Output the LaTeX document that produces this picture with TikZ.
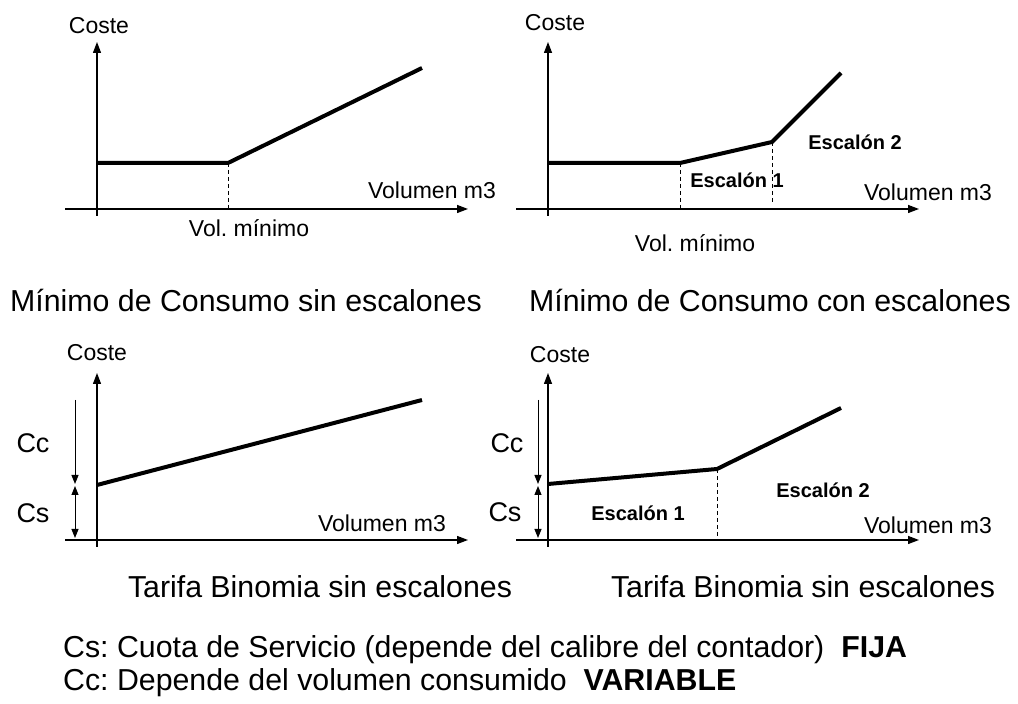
\documentclass[tikz,border=0pt]{standalone}
\usepackage{fontspec}
\setmainfont{Liberation Sans}
\usetikzlibrary{arrows.meta}
\frenchspacing

\tikzset{
  axis/.style={line width=1.3pt},
  cost/.style={line width=4pt},
  guide/.style={line width=0.8pt,dash pattern=on 4pt off 3pt},
  dim/.style={line width=1pt,>={Triangle[length=9pt,width=7pt]}},
  axlabel/.style={font=\fontsize{23}{27}\selectfont,inner sep=0pt},
  vollabel/.style={font=\fontsize{23}{27}\selectfont,inner sep=0pt},
  steplabel/.style={font=\bfseries\fontsize{20}{24}\selectfont,inner sep=0pt},
  partlabel/.style={font=\fontsize{27}{32}\selectfont,inner sep=0pt},
  title/.style={font=\fontsize{30.3}{36}\selectfont,inner sep=0pt}
}

\begin{document}
\begin{tikzpicture}[x=1pt,y=1pt,>/.tip={Triangle[length=11pt,width=8pt]}]
    \useasboundingbox (0,0) rectangle (1018,704);
    % The axes
    \foreach \ox/\oy in {97/495,548/495,97/164,548/164}{
      \draw[axis,->] (\ox-32,\oy) -- (\ox+371,\oy);
      \draw[axis,->] (\ox,\oy-7) -- (\ox,\oy+167);
    }
    % Minimo sin escalones
    \begin{scope}[shift={(97,495)}]
      \node[axlabel] (cA) at (2,183) {Coste};
      \node[vollabel] (vA) at (335,19) {Volumen m3};
      \draw[cost] (0,46) -- (131,46) coordinate (kA) -- (325,141);
      \coordinate (kA0) at (131,0);
      \draw[guide] (kA) -- (kA0);
      \node[vollabel] (mA) at (152,-19) {Vol. mínimo};
    \end{scope}
    % Minimo con escalones
    \begin{scope}[shift={(548,495)}]
      \node[axlabel] (cB) at (7,186) {Coste};
      \node[vollabel] (vB) at (380,17) {Volumen m3};
      \draw[cost] (0,46) -- (132,46) coordinate (kB) -- (224,67) coordinate (kC) -- (293,136);
      \coordinate (kB0) at (132,0);
      \coordinate (kC0) at (224,7);
      \draw[guide] (kB) -- (kB0);
      \draw[guide] (kC) -- (kC0);
      \node[steplabel] (eB1) at (189,29) {Escalón 1};
      \node[steplabel] (eB2) at (307,67) {Escalón 2};
      \node[vollabel] (mB) at (147,-34) {Vol. mínimo};
    \end{scope}
    % Binomia sin escalones
    \begin{scope}[shift={(97,164)}]
      \node[axlabel] (cC) at (0,187) {Coste};
      \node[vollabel] (vC) at (285,17) {Volumen m3};
      \draw[cost] (0,55) -- (325,140);
      \coordinate (tC) at (-22,140);
      \coordinate (mC) at (-22,55);
      \coordinate (bC) at (-22,0);
      \draw[dim,->] (tC) -- ([yshift=1pt]mC);
      \draw[dim,<->] ([yshift=-1pt]mC) -- ([yshift=2pt]bC);
      \node[partlabel] (ccC) at (-64,97) {Cc};
      \node[partlabel] (csC) at (-64,27) {Cs};
    \end{scope}
    % Binomia con escalones
    \begin{scope}[shift={(548,164)}]
      \node[axlabel] (cD) at (12,185) {Coste};
      \node[vollabel] (vD) at (380,15) {Volumen m3};
      \draw[cost] (0,56) -- (169,71) coordinate (kD) -- (293,132);
      \coordinate (kD0) at (169,0);
      \draw[guide] (kD) -- (kD0);
      \coordinate (tD) at (-10,140);
      \coordinate (mD) at (-10,55);
      \coordinate (bD) at (-10,0);
      \draw[dim,->] (tD) -- ([yshift=1pt]mD);
      \draw[dim,<->] ([yshift=-1pt]mD) -- ([yshift=2pt]bD);
      \node[partlabel] (ccD) at (-41,97) {Cc};
      \node[partlabel] (csD) at (-43,28) {Cs};
      \node[steplabel] (eD1) at (90,27) {Escalón 1};
      \node[steplabel] (eD2) at (275,50) {Escalón 2};
    \end{scope}
    % Titles
    \node[title,anchor=west] (tA) at (10,404) {Mínimo de Consumo sin escalones};
    \node[title,anchor=east] (tB) at (1011,404) {Mínimo de Consumo con escalones};
    \node[title] (tC) at (320,117) {Tarifa Binomia sin escalones};
    \node[title] (tD) at (803,117) {Tarifa Binomia sin escalones};
    % Legend
    \node[title,anchor=west] (lgS) at (63,54) {Cs: Cuota de Servicio (depende del calibre del contador)\ \ \textbf{FIJA}};
    \node[title,anchor=west] (lgC) at (63,21) {Cc: Depende del volumen consumido\ \ \textbf{VARIABLE}};
\end{tikzpicture}
\end{document}
